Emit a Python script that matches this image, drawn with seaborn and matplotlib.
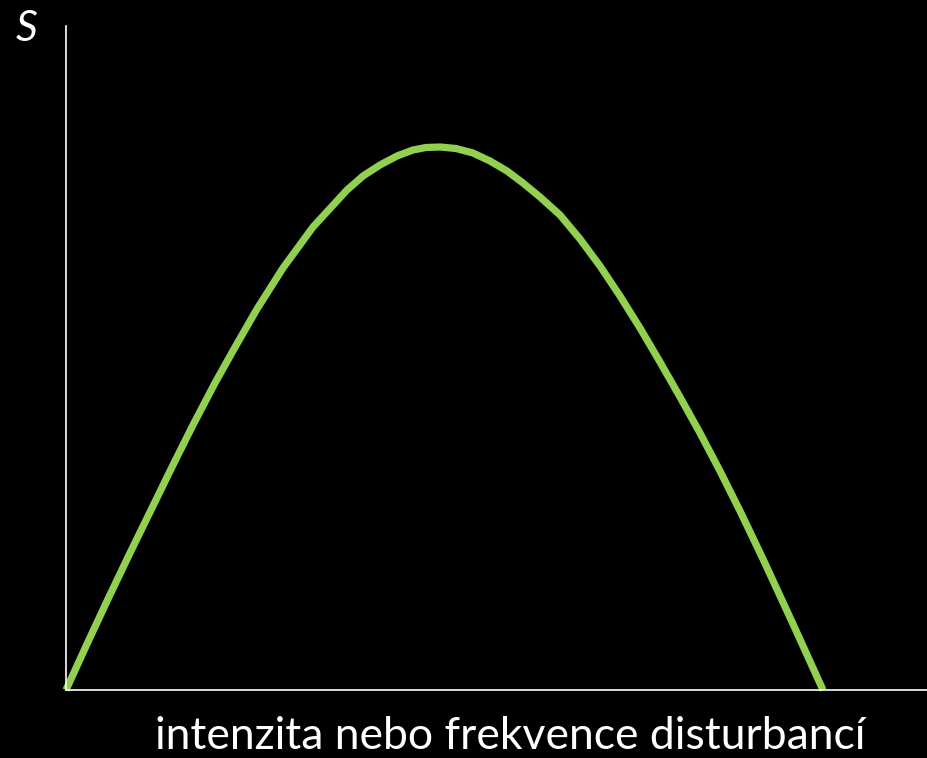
import matplotlib
matplotlib.use("Agg")
import matplotlib.pyplot as plt
import seaborn as sns
import pandas as pd

# curve (x: disturbance, y: S), origin at the axes corner
disturbance = [0, 21, 42, 64, 86, 107, 127, 149, 168, 191, 217, 247, 281,
               297, 314, 331, 347, 360, 374, 390, 407, 424, 441, 457, 474,
               494, 514, 534, 554, 574, 594, 614, 634, 654, 674, 697, 727, 757]
species = [0, 46, 91, 137, 182, 225, 265, 307, 341, 381, 422, 463, 500,
           514, 525, 534, 540, 542.5, 543, 541.5, 537, 529, 519, 507, 493,
           475, 451, 424, 394, 362, 328, 293, 257, 219, 179, 131, 66, 0]

x_label = "intenzita nebo frekvence disturbancí"
y_label = "S"

df = pd.DataFrame({"x": disturbance, "y": species})

sns.set_theme(style="white")
plt.rcParams["font.family"] = ["Lato", "DejaVu Sans"]

W, H = 928, 758
fig = plt.figure(figsize=(W / 100, H / 100), dpi=100, facecolor="black")
ax = fig.add_axes([66 / W, (H - 690) / H, 1 - 66 / W, (690 - 26) / H])
ax.set_facecolor("black")

sns.lineplot(data=df, x="x", y="y", ax=ax, color="#92D050", linewidth=5.2,
             solid_capstyle="butt", solid_joinstyle="round", clip_on=False,
             sort=False)

ax.set_xlim(0, 862)
ax.set_ylim(0, 664)
ax.set_xticks([])
ax.set_yticks([])
ax.set_xlabel("")
ax.set_ylabel("")
for side in ["top", "right"]:
    ax.spines[side].set_visible(False)
for side in ["left", "bottom"]:
    ax.spines[side].set_color("white")
    ax.spines[side].set_linewidth(1.2)

fig.text(510 / W, 1 - 749 / H, x_label, color="white", fontsize=32,
         ha="center", va="baseline")
fig.text(27 / W, 1 - 41 / H, y_label, color="white", fontsize=31,
         style="italic", ha="center", va="baseline")

fig.savefig("out.png", dpi=100, facecolor="black")
